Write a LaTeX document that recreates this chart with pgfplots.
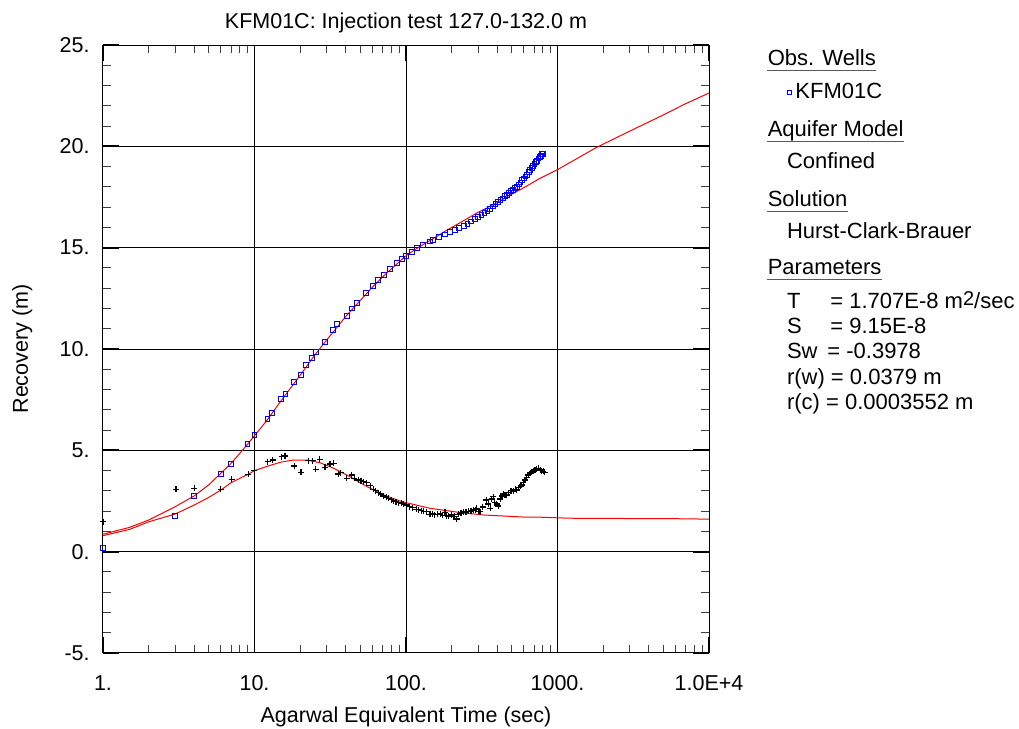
\documentclass[border=0pt]{standalone}
\usepackage{pgfplots}
\pgfplotsset{compat=1.18}
\usepackage{fontspec}
\setmainfont{Liberation Sans}

\begin{document}
\fontsize{10.75}{13}\selectfont
\begin{tikzpicture}
\begin{axis}[
    scale only axis,
    width=303pt, height=304pt,
    xmode=log,
    xmin=1, xmax=10000,
    ymin=-5, ymax=25,
    xtick={1,10,100,1000,10000},
    xticklabels={1.,10.,100.,1000.,1.0E+4},
    minor xtick={2,3,4,5,6,7,8,9,20,30,40,50,60,70,80,90,200,300,400,500,600,700,800,900,2000,3000,4000,5000,6000,7000,8000,9000},
    ytick={-5,0,5,10,15,20,25},
    yticklabels={-5.,0.,5.,10.,15.,20.,25.},
    minor y tick num=4,
    xtick pos=both, ytick pos=both,
    xticklabel pos=lower, yticklabel pos=left,
    tick align=inside,
    major tick length=8pt,
    minor tick length=4pt,
    every major tick/.append style={line width=0.9pt, black},
    every minor tick/.append style={line width=0.5pt, black!75},
    grid=major,
    major grid style={line width=0.5pt, black},
    axis line style={line width=0.5pt, black},
    xticklabel style={anchor=base, inner sep=0pt, yshift=-19pt},
    yticklabel style={anchor=east, inner sep=0pt, xshift=-6.5pt},
    title={KFM01C: Injection test 127.0-132.0 m},
    every axis title shift=0pt,
    title style={at={(axis description cs:0.5,1.0275)}, anchor=base, inner sep=0pt},
    xlabel={Agarwal Equivalent Time (sec)},
    xlabel style={at={(axis description cs:0.5,-0.1151)}, anchor=base, inner sep=0pt},
    ylabel={Recovery (m)},
    ylabel style={at={(axis description cs:-0.1238,0.5)}, anchor=base, inner sep=0pt},
    legend style={draw=none, fill=none, inner sep=0pt,
        at={(axis description cs:1.1287,0.922)}, anchor=west,
        font=\fontsize{11}{13}\selectfont},
    legend cell align=left,
    legend image code/.code={\draw[#1, mark size=1pt] plot coordinates {(0pt,0pt)};},
]

% derivative data
\addplot[only marks, mark=+, mark size=1.5pt, black, line width=0.6pt, forget plot] coordinates {
(1,1.48) (3.03,3.08) (4,3.13) (6,3.08) (7.07,3.57) (9.1,3.82) (10,4.0)
(12.2,4.44) (13.2,4.52) (15.1,4.69) (15.9,4.72) (18.3,4.23) (20.3,3.92)
(22.7,4.49) (24.2,4.49) (25.4,4.06) (27.0,4.56) (29.2,4.16) (31.5,4.33)
(33.4,4.36) (35.8,3.83) (37.1,3.9) (40.6,3.62) (43.8,3.78) (45.5,3.62)
(48.3,3.54) (50.5,3.5) (52.2,3.45) (55,3.40) (58,3.25) (60.7,3.08)
(63,3.0) (65.7,2.91) (68,2.85) (71,2.75) (74,2.7) (76.7,2.63) (80,2.57)
(82.9,2.50) (86,2.47) (89.5,2.42) (93,2.40) (96.7,2.35) (101,2.3)
(106,2.22) (111,2.17) (117,2.09) (121,2.07) (126,2.02) (131,2.0)
(137,1.97) (144,1.85) (150,1.86) (155,1.82) (162,1.84) (168,1.86)
(175,1.8) (181,1.95) (186,1.78) (190,1.76) (199,1.81) (205,1.73)
(210,1.75) (216,1.61) (222,1.85) (228,1.9) (233,1.92) (240,1.95)
(246,1.96) (252,1.97) (258,2.0) (265,1.99) (272,2.02) (280,2.05)
(286,2.08) (293,2.14) (300,2.0) (308,1.97) (320,2.2) (339,2.55)
(350,2.35) (360,2.14) (368,2.6) (377,2.71) (386,2.42) (396,2.35)
(406,2.25) (420,2.6) (430,2.75) (438,2.85) (450,2.82) (462,2.8)
(475,2.9) (490,3.0) (498,3.01) (510,2.98) (525,3.08) (538,3.04)
(555,3.15) (570,3.22) (581,3.29) (595,3.4) (611,3.54) (625,3.65)
(643,3.78) (660,3.88) (677,3.95) (695,4.0) (711,4.03) (730,4.08)
(749,4.11) (768,4.05) (787,4.0) (805,3.96) (824,3.92)
};

% recovery data
\addplot[only marks, mark=square, mark size=1.2pt, blue, line width=0.5pt] coordinates {
(1,0.17) (3,1.75) (4,2.73) (6,3.85) (7,4.33) (9,5.31) (10,5.74)
(12.2,6.53) (13,6.83) (15,7.52) (16,7.76) (18.3,8.36) (20.2,8.72)
(22,9.21) (24,9.54) (25.4,9.85) (29.2,10.33) (33.1,10.94) (35.2,11.22)
(40.6,11.64) (44,12.0) (47.3,12.27) (54.5,12.75) (60.8,13.11)
(65.7,13.4) (71.6,13.65) (78.4,13.93) (86.8,14.23) (93.7,14.43)
(100,14.59) (109,14.77) (118,14.97) (130,15.13) (144,15.3)
(150,15.36) (165,15.51) (180,15.65) (195,15.77) (210,15.86) (225,15.97)
(240,16.07) (255,16.18) (270,16.29) (285,16.40) (300,16.50) (315,16.60)
(330,16.70) (345,16.80) (360,16.92) (375,17.03) (390,17.14) (405,17.24)
(420,17.34) (435,17.43) (450,17.53) (465,17.61) (480,17.70) (495,17.78)
(510,17.86) (525,17.93) (540,18.01) (555,18.12) (570,18.22) (585,18.32)
(600,18.41) (615,18.51) (630,18.60) (645,18.72) (660,18.82) (675,18.92)
(690,19.02) (705,19.12) (720,19.21) (735,19.29) (750,19.40) (765,19.46)
(780,19.54) (795,19.61) (800,19.64)
};
\addlegendentry{KFM01C}

% fitted recovery
\addplot[red, line width=0.5pt, forget plot] coordinates {
(1,0.86) (1.5,1.2) (2,1.56) (3,2.22) (4,2.75) (5,3.3) (6,3.87) (7,4.35)
(8,4.85) (9,5.3) (10,5.72) (12,6.45) (15,7.45) (20,8.7) (25,9.7)
(30,10.45) (40,11.6) (50,12.4) (60,13.05) (70,13.55) (80,13.95)
(100,14.6) (120,15.0) (144,15.35) (180,15.8) (240,16.33) (300,16.75)
(400,17.22) (460,17.5) (600,17.96) (766,18.42) (1000,18.85)
(1815,19.95) (3000,20.75) (5000,21.55) (7000,22.1) (10000,22.63)
};

% fitted derivative
\addplot[red, line width=0.5pt, forget plot] coordinates {
(1,0.79) (1.5,1.1) (2,1.47) (3,1.86) (4,2.30) (5,2.68) (6,3.04) (7,3.40)
(8,3.62) (9,3.80) (10,4.0) (12.6,4.25) (15,4.42) (18,4.52) (22,4.52)
(27,4.39) (33,4.13) (42.6,3.70) (55,3.22) (71,2.80) (91.4,2.50)
(100,2.42) (144,2.14) (227,1.93) (324,1.81) (626,1.70) (770,1.70)
(1200,1.65) (2000,1.64) (5000,1.63) (7500,1.62) (10000,1.60)
};

\end{axis}

\begin{scope}[every node/.style={anchor=base west, inner sep=0pt, font=\fontsize{11}{13}\selectfont}]
  \node (h1) at (332.2pt,293.5pt) {Obs. Wells};
  \node (h2) at (332.2pt,258.15pt) {Aquifer Model};
  \node at (341.8pt,242.35pt) {Confined};
  \node (h3) at (332.2pt,223.15pt) {Solution};
  \node at (341.8pt,207.35pt) {Hurst-Clark-Brauer};
  \node (h4) at (332.2pt,189pt) {Parameters};
  \node at (341.8pt,172.35pt) {T};
  \node at (363.5pt,172.35pt) {= 1.707E-8 m\raisebox{1.6pt}{\fontsize{10}{12}\selectfont 2}/sec};
  \node at (341.8pt,159.5pt) {S};
  \node at (363.5pt,159.5pt) {= 9.15E-8};
  \node at (341.8pt,147.35pt) {Sw};
  \node at (362pt,147.35pt) {= -0.3978};
  \node at (341.8pt,134pt) {r(w) = 0.0379 m};
  \node at (341.8pt,121.5pt) {r(c) = 0.0003552 m};
\end{scope}
\foreach \h in {h1,h2,h3,h4}
  \draw[black!65, line width=0.5pt] ([yshift=-2.3pt]\h.base west) -- ([yshift=-2.3pt]\h.base east);

\pgfresetboundingbox
\useasboundingbox (-51.5pt,-38pt) rectangle (458pt,326.5pt);
\end{tikzpicture}
\end{document}
